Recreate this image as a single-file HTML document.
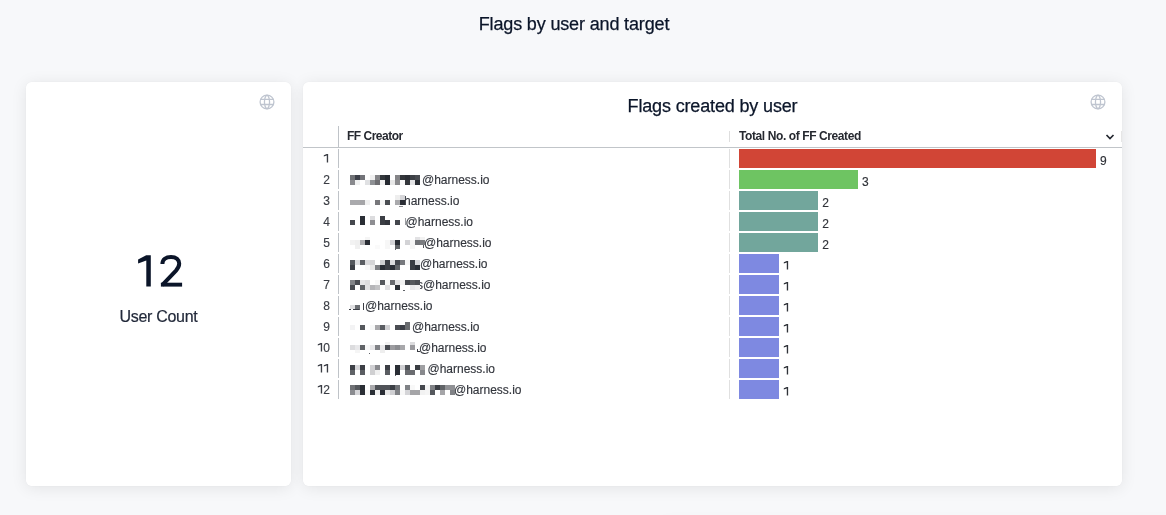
<!DOCTYPE html>
<html><head><meta charset="utf-8">
<style>
*{box-sizing:border-box;margin:0;padding:0}
html,body{width:1166px;height:515px;overflow:hidden}
body{background:#f7f8fa;font-family:"Liberation Sans",sans-serif;position:relative}
.a{position:absolute;white-space:nowrap}
.title{left:0;width:1148px;top:13px;font-size:18px;letter-spacing:-0.15px;-webkit-text-stroke:0.25px #0b1529;line-height:22px;color:#0b1529;text-align:center}
.card{position:absolute;background:#fff;border-radius:6px}
.shd{position:absolute;border-radius:6px;box-shadow:0 0 1px rgba(0,0,0,0.12),0 2px 16px rgba(0,0,0,0.085)}
.globe{position:absolute;width:16px;height:16px}
.big{left:26px;width:265px;text-align:center;top:248px;font-size:44px;line-height:48px;color:#0b1529}
.lbl{left:26px;width:265px;text-align:center;top:307px;font-size:16px;letter-spacing:-0.3px;-webkit-text-stroke:0.2px #22293a;line-height:19px;color:#22293a}
.ctitle{left:303px;width:819px;text-align:center;top:96px;font-size:18px;letter-spacing:-0.15px;-webkit-text-stroke:0.25px #0b1529;line-height:20px;color:#0b1529}
.th{font-size:12px;font-weight:bold;letter-spacing:-0.4px;color:#262930;line-height:14px;top:129px}
.hline{position:absolute;left:303px;width:819px;top:147px;height:1px;background:#c1c5c9}
.vl{position:absolute;width:1px}
.num{position:absolute;left:303px;width:27px;text-align:right;font-size:12px;line-height:14px;color:#3a3d44;-webkit-text-stroke:0.15px #3a3d44}
.em{position:absolute;font-size:12px;line-height:14px;color:#33363d;-webkit-text-stroke:0.15px #33363d}
.bar{position:absolute;left:739px;height:18.8px}
.val{position:absolute;font-size:12px;line-height:14px;color:#2f3238;-webkit-text-stroke:0.15px #2f3238}
.mz i{position:absolute;width:5px;display:block}
#wrap{position:absolute;left:0;top:0;width:1166px;height:515px;will-change:transform}
</style></head><body><div id="wrap">
<div class="a title">Flags by user and target</div>

<div class="shd" style="left:26px;top:82px;width:265px;height:404px"></div>
<div class="shd" style="left:303px;top:82px;width:819px;height:404px"></div>
<div class="shd" style="left:662px;top:523px;width:520px;height:200px;background:#fff"></div>
<div class="card" style="left:26px;top:82px;width:265px;height:404px"></div>
<div class="card" style="left:303px;top:82px;width:819px;height:404px"></div>

<svg class="globe" style="left:259px;top:94px" viewBox="0 0 16 16" fill="none" stroke="#bfc5d0" stroke-width="1.3">
<circle cx="8" cy="8" r="6.9"/><path d="M1.4 5.3h13.2M1.4 10.5h13.2M8 1.1C4.6 3.6 4.6 12.4 8 14.9M8 1.1C11.4 3.6 11.4 12.4 8 14.9"/></svg>
<svg class="globe" style="left:1090px;top:94px" viewBox="0 0 16 16" fill="none" stroke="#bfc5d0" stroke-width="1.3">
<circle cx="8" cy="8" r="6.9"/><path d="M1.4 5.3h13.2M1.4 10.5h13.2M8 1.1C4.6 3.6 4.6 12.4 8 14.9M8 1.1C11.4 3.6 11.4 12.4 8 14.9"/></svg>

<svg style="position:absolute;left:0;top:0" width="300" height="300" viewBox="0 0 300 300" role="img" aria-label="12"><g fill="#0b1529"><path d="M150.8 255.3V286.6H146.3V260.6L138.1 263.6V259.6L146.2 255.3Z"/></g><path d="M162.4 264C162.4 259.5 165.8 256.9 171 256.9C176.1 256.9 179.2 259.7 179.2 263.6C179.2 266.3 178.1 268.2 176 270.6L162.2 285.2" stroke="#0b1529" stroke-width="4" fill="none"/><rect x="160.9" y="282.7" width="21.2" height="3.9" fill="#0b1529"/></svg>
<div class="a lbl">User Count</div>

<div class="a ctitle">Flags created by user</div>

<div class="a th" style="left:347px;letter-spacing:-0.5px">FF Creator</div>
<div class="a th" style="left:739px">Total No. of FF Created</div>
<svg style="position:absolute;left:1104px;top:131.8px" width="12" height="9" viewBox="0 0 12 9" fill="none" stroke="#22262e" stroke-width="1.65"><path d="M2.5 3L6 6.5L9.5 3"/></svg>
<div class="vl" style="left:338px;top:126px;height:21px;background:#bfc3c8"></div>
<div class="vl" style="left:729px;top:131px;height:11px;background:#dedede"></div>
<div class="vl" style="left:1121px;top:131px;height:11px;background:#e6e6e6"></div>
<div class="hline"></div>

<div id="rows">
<div class="num" style="top:152px"><svg width="6.67" height="8.6" viewBox="0 0 6.67 8.6" style="vertical-align:baseline"><path d="M5.15 0V8.6H3.8V1.5L0.8 2.55V1.35L3.7 0Z" fill="currentColor"/></svg></div>
<div class="vl" style="left:338px;top:149px;height:19px;background:#bfc3c8"></div>
<div class="vl" style="left:729px;top:149px;height:19px;background:#e0e0e0"></div>
<div class="bar" style="top:149px;width:357.0px;background:#d14536"></div>
<div class="val" style="left:1100.0px;top:154px">9</div>
<div class="num" style="top:173px">2</div>
<div class="vl" style="left:338px;top:170px;height:19px;background:#bfc3c8"></div>
<div class="vl" style="left:729px;top:170px;height:19px;background:#e0e0e0"></div>
<div class="bar" style="top:170px;width:119.0px;background:#6ec462"></div>
<div class="val" style="left:862.0px;top:175px">3</div>
<div class="em" style="left:422px;top:173px">@harness.io</div>
<div class="num" style="top:194px">3</div>
<div class="vl" style="left:338px;top:191px;height:19px;background:#bfc3c8"></div>
<div class="vl" style="left:729px;top:191px;height:19px;background:#e0e0e0"></div>
<div class="bar" style="top:191px;width:79.3px;background:#72a69c"></div>
<div class="val" style="left:822.3px;top:196px">2</div>
<div class="em" style="left:404px;top:194px">harness.io</div>
<div class="num" style="top:215px">4</div>
<div class="vl" style="left:338px;top:212px;height:19px;background:#bfc3c8"></div>
<div class="vl" style="left:729px;top:212px;height:19px;background:#e0e0e0"></div>
<div class="bar" style="top:212px;width:79.3px;background:#72a69c"></div>
<div class="val" style="left:822.3px;top:217px">2</div>
<div class="em" style="left:405.5px;top:215px">@harness.io</div>
<div class="num" style="top:236px">5</div>
<div class="vl" style="left:338px;top:233px;height:19px;background:#bfc3c8"></div>
<div class="vl" style="left:729px;top:233px;height:19px;background:#e0e0e0"></div>
<div class="bar" style="top:233px;width:79.3px;background:#72a69c"></div>
<div class="val" style="left:822.3px;top:238px">2</div>
<div class="em" style="left:424px;top:236px">@harness.io</div>
<div class="num" style="top:257px">6</div>
<div class="vl" style="left:338px;top:254px;height:19px;background:#bfc3c8"></div>
<div class="vl" style="left:729px;top:254px;height:19px;background:#e0e0e0"></div>
<div class="bar" style="top:254px;width:39.7px;background:#7e89e1"></div>
<div class="val" style="left:782.7px;top:259px"><svg width="6.67" height="8.6" viewBox="0 0 6.67 8.6" style="vertical-align:baseline"><path d="M5.15 0V8.6H3.8V1.5L0.8 2.55V1.35L3.7 0Z" fill="currentColor"/></svg></div>
<div class="em" style="left:420px;top:257px">@harness.io</div>
<div class="num" style="top:278px">7</div>
<div class="vl" style="left:338px;top:275px;height:19px;background:#bfc3c8"></div>
<div class="vl" style="left:729px;top:275px;height:19px;background:#e0e0e0"></div>
<div class="bar" style="top:275px;width:39.7px;background:#7e89e1"></div>
<div class="val" style="left:782.7px;top:280px"><svg width="6.67" height="8.6" viewBox="0 0 6.67 8.6" style="vertical-align:baseline"><path d="M5.15 0V8.6H3.8V1.5L0.8 2.55V1.35L3.7 0Z" fill="currentColor"/></svg></div>
<div class="em" style="left:417px;top:278px">s@harness.io</div>
<div class="num" style="top:299px">8</div>
<div class="vl" style="left:338px;top:296px;height:19px;background:#bfc3c8"></div>
<div class="vl" style="left:729px;top:296px;height:19px;background:#e0e0e0"></div>
<div class="bar" style="top:296px;width:39.7px;background:#7e89e1"></div>
<div class="val" style="left:782.7px;top:301px"><svg width="6.67" height="8.6" viewBox="0 0 6.67 8.6" style="vertical-align:baseline"><path d="M5.15 0V8.6H3.8V1.5L0.8 2.55V1.35L3.7 0Z" fill="currentColor"/></svg></div>
<div class="em" style="left:365px;top:299px">@harness.io</div>
<div class="num" style="top:320px">9</div>
<div class="vl" style="left:338px;top:317px;height:19px;background:#bfc3c8"></div>
<div class="vl" style="left:729px;top:317px;height:19px;background:#e0e0e0"></div>
<div class="bar" style="top:317px;width:39.7px;background:#7e89e1"></div>
<div class="val" style="left:782.7px;top:322px"><svg width="6.67" height="8.6" viewBox="0 0 6.67 8.6" style="vertical-align:baseline"><path d="M5.15 0V8.6H3.8V1.5L0.8 2.55V1.35L3.7 0Z" fill="currentColor"/></svg></div>
<div class="em" style="left:412px;top:320px">@harness.io</div>
<div class="num" style="top:341px"><svg width="6.67" height="8.6" viewBox="0 0 6.67 8.6" style="vertical-align:baseline"><path d="M5.15 0V8.6H3.8V1.5L0.8 2.55V1.35L3.7 0Z" fill="currentColor"/></svg>0</div>
<div class="vl" style="left:338px;top:338px;height:19px;background:#bfc3c8"></div>
<div class="vl" style="left:729px;top:338px;height:19px;background:#e0e0e0"></div>
<div class="bar" style="top:338px;width:39.7px;background:#7e89e1"></div>
<div class="val" style="left:782.7px;top:343px"><svg width="6.67" height="8.6" viewBox="0 0 6.67 8.6" style="vertical-align:baseline"><path d="M5.15 0V8.6H3.8V1.5L0.8 2.55V1.35L3.7 0Z" fill="currentColor"/></svg></div>
<div class="em" style="left:419px;top:341px">@harness.io</div>
<div class="num" style="top:362px"><svg width="6.67" height="8.6" viewBox="0 0 6.67 8.6" style="vertical-align:baseline"><path d="M5.15 0V8.6H3.8V1.5L0.8 2.55V1.35L3.7 0Z" fill="currentColor"/></svg><svg width="6.67" height="8.6" viewBox="0 0 6.67 8.6" style="vertical-align:baseline"><path d="M5.15 0V8.6H3.8V1.5L0.8 2.55V1.35L3.7 0Z" fill="currentColor"/></svg></div>
<div class="vl" style="left:338px;top:359px;height:19px;background:#bfc3c8"></div>
<div class="vl" style="left:729px;top:359px;height:19px;background:#e0e0e0"></div>
<div class="bar" style="top:359px;width:39.7px;background:#7e89e1"></div>
<div class="val" style="left:782.7px;top:364px"><svg width="6.67" height="8.6" viewBox="0 0 6.67 8.6" style="vertical-align:baseline"><path d="M5.15 0V8.6H3.8V1.5L0.8 2.55V1.35L3.7 0Z" fill="currentColor"/></svg></div>
<div class="em" style="left:427.5px;top:362px">@harness.io</div>
<div class="num" style="top:383px"><svg width="6.67" height="8.6" viewBox="0 0 6.67 8.6" style="vertical-align:baseline"><path d="M5.15 0V8.6H3.8V1.5L0.8 2.55V1.35L3.7 0Z" fill="currentColor"/></svg>2</div>
<div class="vl" style="left:338px;top:380px;height:19px;background:#bfc3c8"></div>
<div class="vl" style="left:729px;top:380px;height:19px;background:#e0e0e0"></div>
<div class="bar" style="top:380px;width:39.7px;background:#7e89e1"></div>
<div class="val" style="left:782.7px;top:385px"><svg width="6.67" height="8.6" viewBox="0 0 6.67 8.6" style="vertical-align:baseline"><path d="M5.15 0V8.6H3.8V1.5L0.8 2.55V1.35L3.7 0Z" fill="currentColor"/></svg></div>
<div class="em" style="left:454px;top:383px">@harness.io</div>
<div class="mz"><i style="left:349px;top:309px;width:2px;height:1px;background:#3a3d44"></i>
<i style="left:353px;top:309px;width:6px;height:1px;background:#3a3d44"></i>
<i style="left:358.7px;top:309px;width:1.8px;height:1px;background:#55585e"></i>
<i style="left:363px;top:303px;width:1.2px;height:7px;background:#3b3e45"></i>
<i style="left:405px;top:218px;width:1px;height:7px;background:#9a9ca0"></i>
<i style="left:423.3px;top:240px;width:1px;height:8px;background:#55585e"></i>
<i style="left:399px;top:206.3px;width:4px;height:1.2px;background:#8a8c90"></i>
<i style="left:394.5px;top:248.5px;width:1.5px;height:1px;background:#606368"></i>
<i style="left:403px;top:289.5px;width:2px;height:1.2px;background:#606368"></i>
<i style="left:416.8px;top:348.5px;width:1.3px;height:3.2px;background:#3b3e45"></i>
<i style="left:416.8px;top:350.7px;width:3px;height:1px;background:#3b3e45"></i>
<i style="left:368.5px;top:353px;width:1.5px;height:1px;background:#606368"></i>
<i style="left:394.5px;top:375px;width:1.5px;height:1px;background:#606368"></i>
<i style="left:350px;top:175px;height:5px;background:#707276"></i>
<i style="left:355px;top:175px;height:5px;background:#3d4049"></i>
<i style="left:360px;top:175px;height:5px;background:#727378"></i>
<i style="left:370px;top:175px;height:5px;background:#f0f0f0"></i>
<i style="left:375px;top:175px;height:5px;background:#858588"></i>
<i style="left:380px;top:175px;height:5px;background:#34383d"></i>
<i style="left:385px;top:175px;height:5px;background:#262a31"></i>
<i style="left:395px;top:175px;height:5px;background:#858588"></i>
<i style="left:400px;top:175px;height:5px;background:#33363b"></i>
<i style="left:405px;top:175px;height:5px;background:#2b2e35"></i>
<i style="left:410px;top:175px;height:5px;background:#3d4046"></i>
<i style="left:415px;top:175px;height:5px;background:#484b51"></i>
<i style="left:350px;top:180px;height:5px;background:#88898d"></i>
<i style="left:355px;top:180px;height:5px;background:#f0f1f1"></i>
<i style="left:365px;top:180px;height:5px;background:#e0e1e3"></i>
<i style="left:370px;top:180px;height:5px;background:#8f9195"></i>
<i style="left:375px;top:180px;height:5px;background:#6e6e72"></i>
<i style="left:380px;top:180px;height:5px;background:#f0f0f0"></i>
<i style="left:385px;top:180px;height:5px;background:#262a31"></i>
<i style="left:390px;top:180px;height:5px;background:#e8e8e8"></i>
<i style="left:395px;top:180px;height:5px;background:#8a8a8d"></i>
<i style="left:400px;top:180px;height:5px;background:#f8f8f8"></i>
<i style="left:405px;top:180px;height:5px;background:#33363b"></i>
<i style="left:410px;top:180px;height:5px;background:#e3e3e5"></i>
<i style="left:415px;top:180px;height:5px;background:#2a2d34"></i>
<i style="left:350px;top:200px;height:5px;background:#aaaaad"></i>
<i style="left:355px;top:200px;height:5px;background:#aaaaad"></i>
<i style="left:360px;top:200px;height:5px;background:#a5a5a8"></i>
<i style="left:365px;top:200px;height:5px;background:#f0f0f0"></i>
<i style="left:375px;top:200px;height:5px;background:#77777b"></i>
<i style="left:380px;top:200px;height:5px;background:#f5f5f5"></i>
<i style="left:385px;top:200px;height:5px;background:#4a4d52"></i>
<i style="left:395px;top:200px;height:5px;background:#aaaaad"></i>
<i style="left:400px;top:200px;height:5px;background:#2a2e35"></i>
<i style="left:395px;top:195px;height:5px;background:#eeeeee"></i>
<i style="left:400px;top:195px;height:5px;background:#d5d5d8"></i>
<i style="left:360px;top:216px;height:4px;background:#2a2e35"></i>
<i style="left:370px;top:216px;height:4px;background:#dcdcde"></i>
<i style="left:380px;top:216px;height:4px;background:#3c3f45"></i>
<i style="left:350px;top:220px;height:5px;background:#45484e"></i>
<i style="left:360px;top:220px;height:5px;background:#2a2e35"></i>
<i style="left:370px;top:220px;height:5px;background:#8e8e92"></i>
<i style="left:380px;top:220px;height:5px;background:#3c3f45"></i>
<i style="left:385px;top:220px;height:5px;background:#34373e"></i>
<i style="left:395px;top:220px;height:5px;background:#44474d"></i>
<i style="left:365px;top:237px;height:3px;background:#f5f5f5"></i>
<i style="left:350px;top:240px;height:5px;background:#f2f2f2"></i>
<i style="left:355px;top:240px;height:5px;background:#efefef"></i>
<i style="left:360px;top:240px;height:5px;background:#b0b0b3"></i>
<i style="left:365px;top:240px;height:5px;background:#2a2e35"></i>
<i style="left:385px;top:240px;height:5px;background:#f7f7f7"></i>
<i style="left:390px;top:240px;height:5px;background:#d5d5d8"></i>
<i style="left:395px;top:240px;height:5px;background:#2a2e35"></i>
<i style="left:405px;top:240px;height:5px;background:#d3d3d6"></i>
<i style="left:410px;top:240px;height:5px;background:#f5f5f5"></i>
<i style="left:415px;top:240px;height:5px;background:#707276"></i>
<i style="left:420px;top:240px;height:5px;background:#7a7c80"></i>
<i style="left:355px;top:245px;height:4px;background:#f0f0f0"></i>
<i style="left:375px;top:245px;height:4px;background:#fafafa"></i>
<i style="left:385px;top:245px;height:4px;background:#f7f7f7"></i>
<i style="left:395px;top:245px;height:4px;background:#606367"></i>
<i style="left:410px;top:245px;height:4px;background:#f5f5f5"></i>
<i style="left:415px;top:237px;height:3px;background:#e2e2e4"></i>
<i style="left:420px;top:237px;height:3px;background:#f2f2f2"></i>
<i style="left:350px;top:260px;height:5px;background:#55585d"></i>
<i style="left:355px;top:260px;height:5px;background:#dcdcde"></i>
<i style="left:360px;top:260px;height:5px;background:#5a5d62"></i>
<i style="left:365px;top:260px;height:5px;background:#dadadc"></i>
<i style="left:370px;top:260px;height:5px;background:#d5d5d7"></i>
<i style="left:380px;top:260px;height:5px;background:#cfd0d2"></i>
<i style="left:385px;top:260px;height:5px;background:#3c3f45"></i>
<i style="left:390px;top:260px;height:5px;background:#dcdcde"></i>
<i style="left:395px;top:260px;height:5px;background:#45484e"></i>
<i style="left:400px;top:260px;height:5px;background:#77797d"></i>
<i style="left:405px;top:260px;height:5px;background:#f7f7f7"></i>
<i style="left:410px;top:260px;height:5px;background:#3a3d43"></i>
<i style="left:415px;top:260px;height:5px;background:#d5d5d8"></i>
<i style="left:350px;top:265px;height:5px;background:#3c3f45"></i>
<i style="left:365px;top:265px;height:5px;background:#f8f8f8"></i>
<i style="left:370px;top:265px;height:5px;background:#e8e8e8"></i>
<i style="left:375px;top:265px;height:5px;background:#7e8084"></i>
<i style="left:380px;top:265px;height:5px;background:#2a2e35"></i>
<i style="left:385px;top:265px;height:5px;background:#3c3f45"></i>
<i style="left:390px;top:265px;height:5px;background:#2a2e35"></i>
<i style="left:395px;top:265px;height:5px;background:#606367"></i>
<i style="left:410px;top:265px;height:5px;background:#3a3d43"></i>
<i style="left:415px;top:265px;height:5px;background:#2a2e35"></i>
<i style="left:350px;top:280px;height:5px;background:#828488"></i>
<i style="left:355px;top:280px;height:5px;background:#4a4d53"></i>
<i style="left:360px;top:280px;height:5px;background:#e5e5e7"></i>
<i style="left:365px;top:280px;height:5px;background:#dcdcde"></i>
<i style="left:375px;top:280px;height:5px;background:#f8f8f8"></i>
<i style="left:380px;top:280px;height:5px;background:#55585d"></i>
<i style="left:385px;top:280px;height:5px;background:#f8f8f8"></i>
<i style="left:390px;top:280px;height:5px;background:#696b70"></i>
<i style="left:395px;top:280px;height:5px;background:#e2e2e4"></i>
<i style="left:400px;top:280px;height:5px;background:#f2f2f2"></i>
<i style="left:405px;top:280px;height:5px;background:#45484e"></i>
<i style="left:410px;top:280px;height:5px;background:#55585d"></i>
<i style="left:415px;top:280px;height:5px;background:#4a4d53"></i>
<i style="left:350px;top:285px;height:5px;background:#484b51"></i>
<i style="left:360px;top:285px;height:5px;background:#5e6166"></i>
<i style="left:365px;top:285px;height:5px;background:#e0e0e2"></i>
<i style="left:370px;top:285px;height:5px;background:#b5b5b8"></i>
<i style="left:375px;top:285px;height:5px;background:#c2c2c4"></i>
<i style="left:385px;top:285px;height:5px;background:#e0e0e2"></i>
<i style="left:395px;top:285px;height:5px;background:#2a2e35"></i>
<i style="left:410px;top:285px;height:5px;background:#e8e8ea"></i>
<i style="left:415px;top:285px;height:5px;background:#efeff0"></i>
<i style="left:350px;top:305px;height:4px;background:#e0e0e2"></i>
<i style="left:355px;top:305px;height:4px;background:#6c6f73"></i>
<i style="left:350px;top:325px;height:5px;background:#f3f3f4"></i>
<i style="left:360px;top:325px;height:5px;background:#55585d"></i>
<i style="left:370px;top:325px;height:5px;background:#f7f8f8"></i>
<i style="left:375px;top:325px;height:5px;background:#a8a8ab"></i>
<i style="left:380px;top:325px;height:5px;background:#5a5d62"></i>
<i style="left:385px;top:325px;height:5px;background:#d0d0d3"></i>
<i style="left:395px;top:325px;height:5px;background:#4a4d53"></i>
<i style="left:400px;top:325px;height:5px;background:#3c3f47"></i>
<i style="left:405px;top:325px;height:5px;background:#6a6c70"></i>
<i style="left:405px;top:322px;height:3px;background:#6a6c70"></i>
<i style="left:350px;top:345px;height:5px;background:#dcdcde"></i>
<i style="left:355px;top:345px;height:5px;background:#e8e8ea"></i>
<i style="left:360px;top:345px;height:5px;background:#606367"></i>
<i style="left:365px;top:345px;height:5px;background:#f8f8f8"></i>
<i style="left:370px;top:345px;height:5px;background:#e8e8ea"></i>
<i style="left:375px;top:345px;height:5px;background:#808286"></i>
<i style="left:380px;top:345px;height:5px;background:#e8e8ea"></i>
<i style="left:385px;top:345px;height:5px;background:#4a4d53"></i>
<i style="left:390px;top:345px;height:5px;background:#9c9ca0"></i>
<i style="left:395px;top:345px;height:5px;background:#8c8d91"></i>
<i style="left:400px;top:345px;height:5px;background:#a8a8ab"></i>
<i style="left:410px;top:345px;height:5px;background:#9a9a9e"></i>
<i style="left:385px;top:342px;height:3px;background:#f2f2f2"></i>
<i style="left:410px;top:342px;height:3px;background:#dcdcde"></i>
<i style="left:355px;top:350px;height:3px;background:#f5f5f5"></i>
<i style="left:380px;top:350px;height:3px;background:#eeeeee"></i>
<i style="left:350px;top:365px;height:5px;background:#3c3f45"></i>
<i style="left:355px;top:365px;height:5px;background:#d5d5d8"></i>
<i style="left:360px;top:365px;height:5px;background:#3c3f45"></i>
<i style="left:370px;top:365px;height:5px;background:#d0d0d3"></i>
<i style="left:375px;top:365px;height:5px;background:#8a8b8f"></i>
<i style="left:385px;top:365px;height:5px;background:#3c3f45"></i>
<i style="left:395px;top:365px;height:5px;background:#2a2e35"></i>
<i style="left:400px;top:365px;height:5px;background:#d0d0d3"></i>
<i style="left:405px;top:365px;height:5px;background:#505358"></i>
<i style="left:415px;top:365px;height:5px;background:#3a3d43"></i>
<i style="left:420px;top:365px;height:5px;background:#a0a0a3"></i>
<i style="left:350px;top:370px;height:5px;background:#606367"></i>
<i style="left:360px;top:370px;height:5px;background:#5a5d62"></i>
<i style="left:370px;top:370px;height:5px;background:#cfcfd1"></i>
<i style="left:375px;top:370px;height:5px;background:#f0f0f0"></i>
<i style="left:385px;top:370px;height:5px;background:#5a5d62"></i>
<i style="left:395px;top:370px;height:5px;background:#2a2e35"></i>
<i style="left:405px;top:370px;height:5px;background:#6a6c70"></i>
<i style="left:410px;top:370px;height:5px;background:#6a6c70"></i>
<i style="left:420px;top:370px;height:5px;background:#88898d"></i>
<i style="left:350px;top:385px;height:5px;background:#707276"></i>
<i style="left:355px;top:385px;height:5px;background:#55585d"></i>
<i style="left:360px;top:385px;height:5px;background:#2a2e35"></i>
<i style="left:370px;top:385px;height:5px;background:#aaaaad"></i>
<i style="left:375px;top:385px;height:5px;background:#505358"></i>
<i style="left:380px;top:385px;height:5px;background:#505358"></i>
<i style="left:385px;top:385px;height:5px;background:#505358"></i>
<i style="left:390px;top:385px;height:5px;background:#3c3f45"></i>
<i style="left:395px;top:385px;height:5px;background:#707276"></i>
<i style="left:405px;top:385px;height:5px;background:#808286"></i>
<i style="left:410px;top:385px;height:5px;background:#f8f8f8"></i>
<i style="left:420px;top:385px;height:5px;background:#45484e"></i>
<i style="left:425px;top:385px;height:5px;background:#f5f5f5"></i>
<i style="left:430px;top:385px;height:5px;background:#808286"></i>
<i style="left:435px;top:385px;height:5px;background:#3c3f45"></i>
<i style="left:440px;top:385px;height:5px;background:#606367"></i>
<i style="left:445px;top:385px;height:5px;background:#909195"></i>
<i style="left:450px;top:385px;height:5px;background:#909195"></i>
<i style="left:350px;top:390px;height:5px;background:#8a8b8f"></i>
<i style="left:355px;top:390px;height:5px;background:#d5d5d8"></i>
<i style="left:360px;top:390px;height:5px;background:#2a2e35"></i>
<i style="left:365px;top:390px;height:5px;background:#f8f8f8"></i>
<i style="left:370px;top:390px;height:5px;background:#2a2e35"></i>
<i style="left:375px;top:390px;height:5px;background:#f0f0f0"></i>
<i style="left:380px;top:390px;height:5px;background:#2a2e35"></i>
<i style="left:385px;top:390px;height:5px;background:#e8e8e8"></i>
<i style="left:390px;top:390px;height:5px;background:#d0d0d3"></i>
<i style="left:395px;top:390px;height:5px;background:#808286"></i>
<i style="left:400px;top:390px;height:5px;background:#f8f8f8"></i>
<i style="left:405px;top:390px;height:5px;background:#d5d5d8"></i>
<i style="left:410px;top:390px;height:5px;background:#a5a5a8"></i>
<i style="left:415px;top:390px;height:5px;background:#a5a5a8"></i>
<i style="left:420px;top:390px;height:5px;background:#f2f2f2"></i>
<i style="left:425px;top:390px;height:5px;background:#f5f5f5"></i>
<i style="left:430px;top:390px;height:5px;background:#55585d"></i>
<i style="left:440px;top:390px;height:5px;background:#a5a5a8"></i>
<i style="left:450px;top:390px;height:5px;background:#808286"></i></div>
</div>
</div></body></html>
